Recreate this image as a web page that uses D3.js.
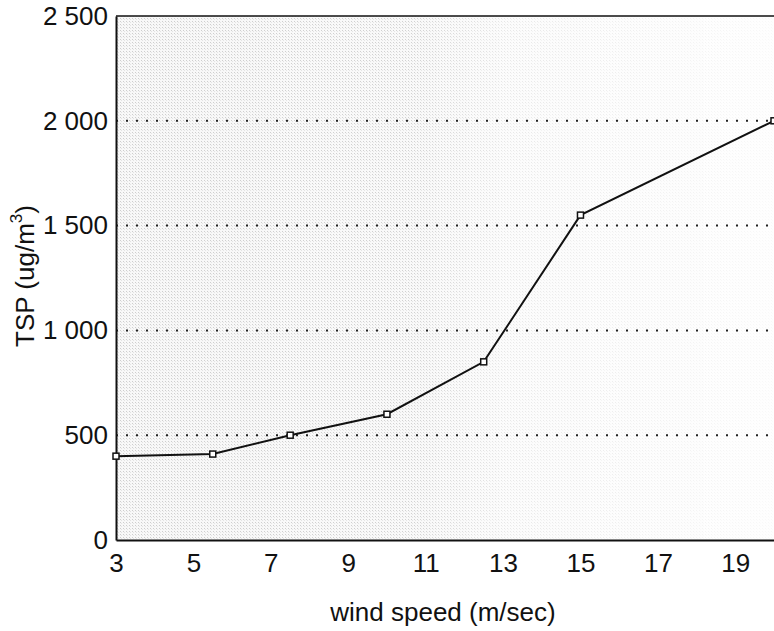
<!DOCTYPE html>
<html>
<head>
<meta charset="utf-8">
<script src="https://cdn.jsdelivr.net/npm/d3@7"></script>
<style>
  body { margin: 0; background: #fff; }
  svg text { font-family: "Liberation Sans", Arial, sans-serif; fill: #111; }
</style>
</head>
<body>
<script>
// wind speed vs TSP
var windSpeed = [3, 5.5, 7.5, 10, 12.5, 15, 20];
var tsp = [400, 410, 500, 600, 850, 1550, 2000];
var xTicks = [3, 5, 7, 9, 11, 13, 15, 17, 19];
var yTicks = [0, 500, 1000, 1500, 2000, 2500];
var gridValues = [500, 1000, 1500, 2000];

var W = 774, H = 631;
var margin = {left: 116, top: 16, right: 0, bottom: 91};

var svg = d3.select("body").append("svg")
  .attr("width", W).attr("height", H);

var x = d3.scaleLinear().domain([3, 20]).range([margin.left, W - margin.right]);
var y = d3.scaleLinear().domain([0, 2500]).range([H - margin.bottom, margin.top]);

var fmt = function(d){ return d >= 1000 ? d3.format(",")(d).replace(",", " ") : String(d); };

var defs = svg.append("defs");
var pat = defs.append("pattern").attr("id", "stip")
  .attr("width", 3).attr("height", 3).attr("patternUnits", "userSpaceOnUse");
pat.append("rect").attr("width", 3).attr("height", 3).attr("fill", "#f6f6f6");
pat.append("rect").attr("width", 1).attr("height", 1).attr("fill", "#bdbdbd");
pat.append("rect").attr("x", 1).attr("y", 1).attr("width", 1).attr("height", 1).attr("fill", "#dadada");

var grad = defs.append("linearGradient").attr("id", "fade")
  .attr("x1", 0).attr("x2", 1).attr("y1", 0).attr("y2", 0);
grad.append("stop").attr("offset", "0").attr("stop-color", "#fff").attr("stop-opacity", 0.75);
grad.append("stop").attr("offset", "0.45").attr("stop-color", "#fff").attr("stop-opacity", 0.7);
grad.append("stop").attr("offset", "0.6").attr("stop-color", "#fff").attr("stop-opacity", 0.35);
grad.append("stop").attr("offset", "1").attr("stop-color", "#fff").attr("stop-opacity", 0.1);
var mask = defs.append("mask").attr("id", "m");
mask.append("rect").attr("x", x(3)).attr("y", y(2500))
  .attr("width", x(20) - x(3)).attr("height", y(0) - y(2500)).attr("fill", "url(#fade)");

svg.append("rect")
  .attr("x", x(3)).attr("y", y(2500))
  .attr("width", x(20) - x(3)).attr("height", y(0) - y(2500))
  .attr("fill", "url(#stip)").attr("mask", "url(#m)");

// dotted grid
svg.append("g").selectAll("line").data(gridValues).join("line")
  .attr("x1", x(3)).attr("x2", x(20))
  .attr("y1", d => y(d)).attr("y2", d => y(d))
  .attr("stroke", "#222").attr("stroke-width", 2)
  .attr("stroke-dasharray", "2,8");

// frame
svg.append("line").attr("x1", x(3)).attr("x2", x(20)).attr("y1", y(2500)).attr("y2", y(2500))
  .attr("stroke", "#111").attr("stroke-width", 1.5);

var xAxis = svg.append("g").attr("transform", "translate(0," + y(0) + ")")
  .call(d3.axisBottom(x).tickValues(xTicks).tickSize(0).tickPadding(14).tickFormat(d3.format("d")));
var yAxis = svg.append("g").attr("transform", "translate(" + x(3) + ",0)")
  .call(d3.axisLeft(y).tickValues(yTicks).tickSize(0).tickPadding(8).tickFormat(fmt));

[xAxis, yAxis].forEach(function(a){
  a.select(".domain").attr("stroke", "#111").attr("stroke-width", 2);
  a.selectAll("text").attr("font-size", 26).attr("fill", "#111")
    .attr("font-family", "'Liberation Sans', Arial, sans-serif");
});

// series line
var pts = windSpeed.map(function(d, i){ return [d, tsp[i]]; });
svg.append("path").datum(pts)
  .attr("fill", "none").attr("stroke", "#111").attr("stroke-width", 2)
  .attr("d", d3.line().x(d => x(d[0])).y(d => y(d[1])));

svg.append("g").selectAll("rect").data(pts).join("rect")
  .attr("x", d => x(d[0]) - 3).attr("y", d => y(d[1]) - 3)
  .attr("width", 6).attr("height", 6)
  .attr("fill", "#fff").attr("stroke", "#111").attr("stroke-width", 1.5);

// titles
svg.append("text").attr("x", 443).attr("y", 621)
  .attr("text-anchor", "middle").attr("font-size", 26)
  .text("wind speed (m/sec)");

var yt = svg.append("text")
  .attr("transform", "translate(34,276) rotate(-90)")
  .attr("text-anchor", "middle").attr("font-size", 26);
yt.append("tspan").text("TSP (ug/m");
yt.append("tspan").attr("dy", -12).attr("font-size", 17).text("3");
yt.append("tspan").attr("dy", 12).text(")");
</script>
</body>
</html>
